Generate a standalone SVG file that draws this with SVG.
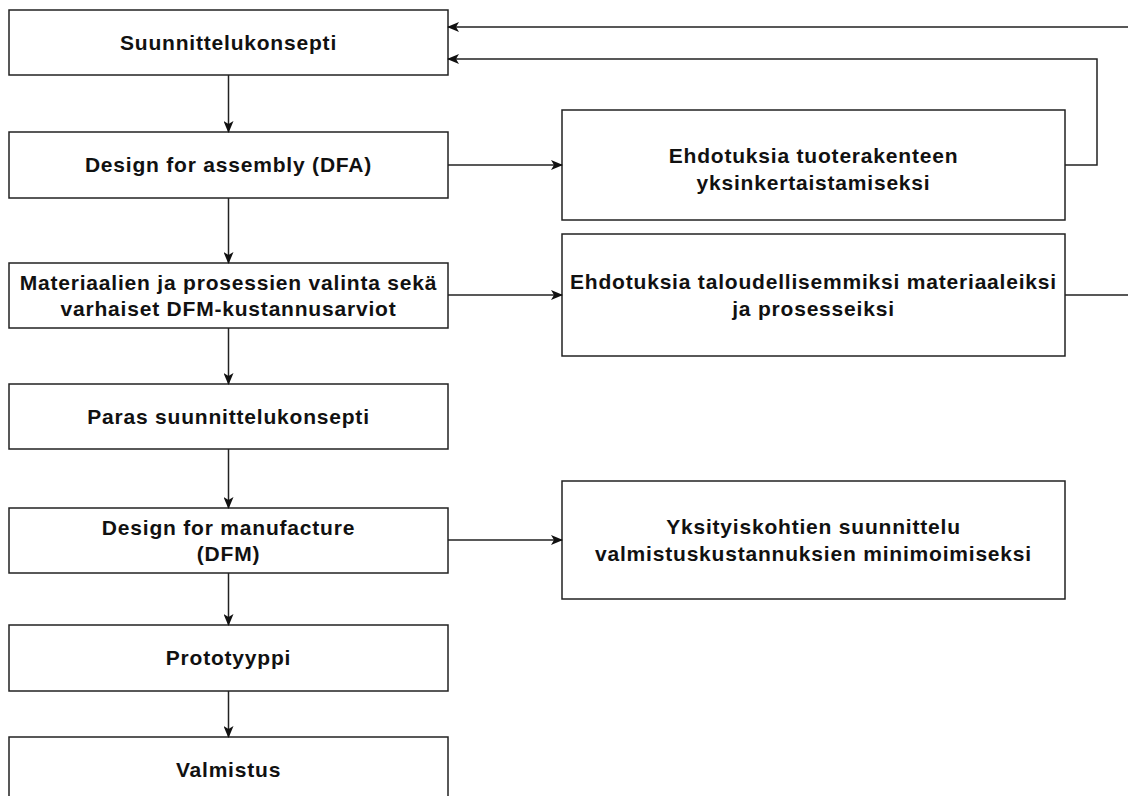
<svg xmlns="http://www.w3.org/2000/svg" width="1128" height="796" viewBox="0 0 1128 796">
  <style>
    .box { fill: #ffffff; stroke: #222222; stroke-width: 1.5; }
    .lbl { font-family: "Liberation Sans", Arial, sans-serif; font-size: 21px; font-weight: bold; fill: #111111; text-anchor: middle; letter-spacing: 0.8px; }
    .edge { fill: none; stroke: #222222; stroke-width: 1.5; }
  </style>
  <defs>
    <marker id="arrow" viewBox="0 0 12 10" refX="11" refY="5" markerWidth="12" markerHeight="10" markerUnits="userSpaceOnUse" orient="auto">
      <path d="M0,0 L12,5 L0,10 L3,5 Z" fill="#111111"/>
    </marker>
  </defs>
  <rect width="1128" height="796" fill="#ffffff"/>

  <!-- main flow, left column -->
  <g id="n-suunnittelukonsepti">
    <rect class="box" x="9" y="10" width="439" height="65"/>
    <text class="lbl" x="228.5" y="50">Suunnittelukonsepti</text>
  </g>
  <g id="n-dfa">
    <rect class="box" x="9" y="132" width="439" height="66"/>
    <text class="lbl" x="228.5" y="172">Design for assembly (DFA)</text>
  </g>
  <g id="n-materiaalit">
    <rect class="box" x="9" y="263" width="439" height="65"/>
    <text class="lbl" x="228.5" y="290">Materiaalien ja prosessien valinta sekä</text>
    <text class="lbl" x="228.5" y="316">varhaiset DFM-kustannusarviot</text>
  </g>
  <g id="n-paras">
    <rect class="box" x="9" y="384" width="439" height="65"/>
    <text class="lbl" x="228.5" y="424">Paras suunnittelukonsepti</text>
  </g>
  <g id="n-dfm">
    <rect class="box" x="9" y="508" width="439" height="65"/>
    <text class="lbl" x="228.5" y="535">Design for manufacture</text>
    <text class="lbl" x="228.5" y="561">(DFM)</text>
  </g>
  <g id="n-prototyyppi">
    <rect class="box" x="9" y="625" width="439" height="66"/>
    <text class="lbl" x="228.5" y="665">Prototyyppi</text>
  </g>
  <g id="n-valmistus">
    <rect class="box" x="9" y="737" width="439" height="65"/>
    <text class="lbl" x="228.5" y="777">Valmistus</text>
  </g>

  <!-- suggestion boxes, right column -->
  <g id="n-rakenne">
    <rect class="box" x="562" y="110" width="503" height="110"/>
    <text class="lbl" x="813.5" y="163">Ehdotuksia tuoterakenteen</text>
    <text class="lbl" x="813.5" y="190">yksinkertaistamiseksi</text>
  </g>
  <g id="n-talous">
    <rect class="box" x="562" y="234" width="503" height="122"/>
    <text class="lbl" x="813.5" y="289">Ehdotuksia taloudellisemmiksi materiaaleiksi</text>
    <text class="lbl" x="813.5" y="316">ja prosesseiksi</text>
  </g>
  <g id="n-yksityiskohdat">
    <rect class="box" x="562" y="481" width="503" height="118"/>
    <text class="lbl" x="813.5" y="534">Yksityiskohtien suunnittelu</text>
    <text class="lbl" x="813.5" y="561">valmistuskustannuksien minimoimiseksi</text>
  </g>

  <!-- connectors -->
  <g id="connectors">
    <path class="edge" marker-end="url(#arrow)" d="M228.5,75 L228.5,132"/>
    <path class="edge" marker-end="url(#arrow)" d="M228.5,198 L228.5,263"/>
    <path class="edge" marker-end="url(#arrow)" d="M228.5,328 L228.5,384"/>
    <path class="edge" marker-end="url(#arrow)" d="M228.5,449 L228.5,508"/>
    <path class="edge" marker-end="url(#arrow)" d="M228.5,573 L228.5,625"/>
    <path class="edge" marker-end="url(#arrow)" d="M228.5,691 L228.5,737"/>
    <path class="edge" marker-end="url(#arrow)" d="M448,165 L562,165"/>
    <path class="edge" marker-end="url(#arrow)" d="M448,295 L562,295"/>
    <path class="edge" marker-end="url(#arrow)" d="M448,540 L562,540"/>
    <path class="edge" marker-end="url(#arrow)" d="M1065,165 L1097,165 L1097,59 L448,59"/>
    <path class="edge" marker-end="url(#arrow)" d="M1065,295 L1140,295 L1140,27 L448,27"/>
  </g>
</svg>
